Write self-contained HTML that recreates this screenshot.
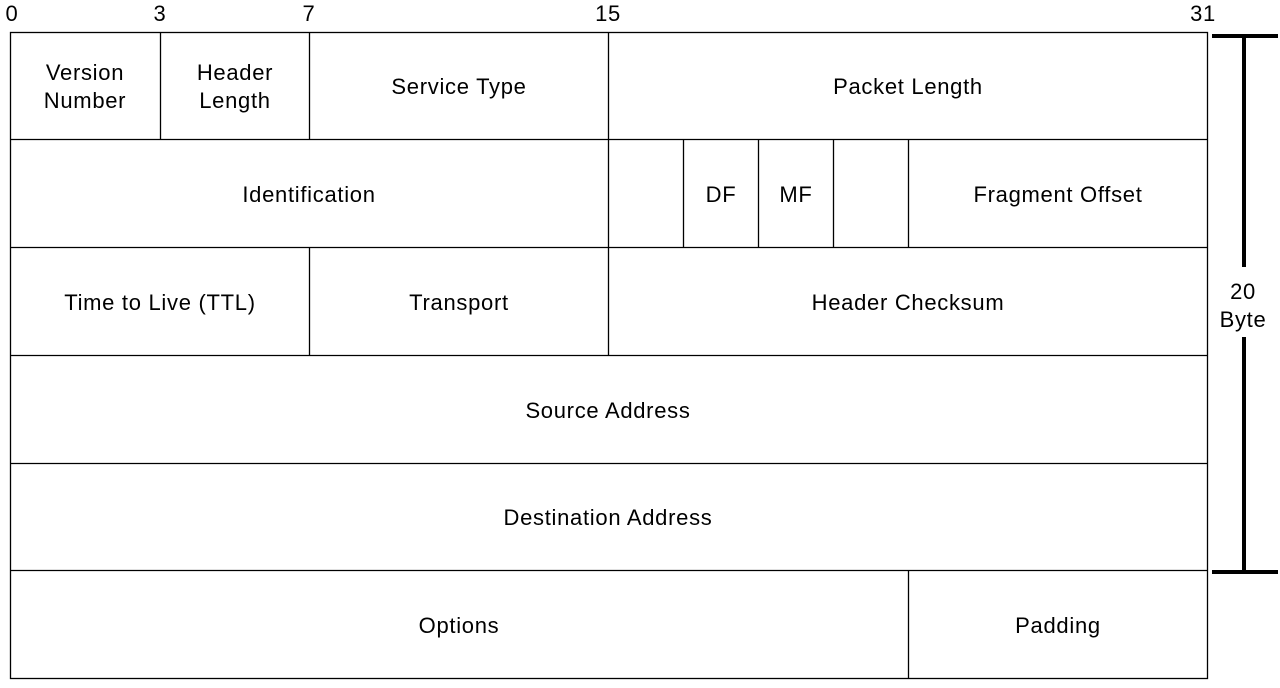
<!DOCTYPE html>
<html><head><style>body{margin:0;background:#fff}</style></head><body>
<svg width="1280" height="683" xmlns="http://www.w3.org/2000/svg" font-family="Liberation Sans, DejaVu Sans, sans-serif" font-size="22" fill="#000">
<rect width="1280" height="683" fill="#fff"/>
<g stroke="#000" stroke-width="1.3" fill="none">
<rect x="10.5" y="32.5" width="1197" height="646"/>
<line x1="10" y1="139.5" x2="1207" y2="139.5"/>
<line x1="10" y1="247.5" x2="1207" y2="247.5"/>
<line x1="10" y1="355.5" x2="1207" y2="355.5"/>
<line x1="10" y1="463.5" x2="1207" y2="463.5"/>
<line x1="10" y1="570.5" x2="1207" y2="570.5"/>
<line x1="160.5" y1="32" x2="160.5" y2="139"/>
<line x1="309.5" y1="32" x2="309.5" y2="139"/>
<line x1="608.5" y1="32" x2="608.5" y2="355"/>
<line x1="683.5" y1="139" x2="683.5" y2="247"/>
<line x1="758.5" y1="139" x2="758.5" y2="247"/>
<line x1="833.5" y1="139" x2="833.5" y2="247"/>
<line x1="908.5" y1="139" x2="908.5" y2="247"/>
<line x1="309.5" y1="247" x2="309.5" y2="355"/>
<line x1="908.5" y1="570" x2="908.5" y2="678"/>
</g>
<g stroke="#000" stroke-width="4">
<line x1="1212" y1="36" x2="1278" y2="36"/>
<line x1="1212" y1="572" x2="1278" y2="572"/>
<line x1="1244" y1="36" x2="1244" y2="267"/>
<line x1="1244" y1="337" x2="1244" y2="572"/>
</g>
<g text-anchor="middle" letter-spacing="0.7">
<text x="12" y="21">0</text>
<text x="160" y="21">3</text>
<text x="309" y="21">7</text>
<text x="608" y="21">15</text>
<text x="1203" y="21">31</text>
<text x="85" y="80">Version</text><text x="85" y="108">Number</text>
<text x="235" y="80">Header</text><text x="235" y="108">Length</text>
<text x="459" y="94">Service Type</text>
<text x="908" y="94">Packet Length</text>
<text x="309" y="202">Identification</text>
<text x="721" y="202">DF</text>
<text x="796" y="202">MF</text>
<text x="1058" y="202">Fragment Offset</text>
<text x="160" y="310">Time to Live (TTL)</text>
<text x="459" y="310">Transport</text>
<text x="908" y="310">Header Checksum</text>
<text x="608" y="418">Source Address</text>
<text x="608" y="525">Destination Address</text>
<text x="459" y="633">Options</text>
<text x="1058" y="633">Padding</text>
<text x="1243" y="299">20</text>
<text x="1243" y="327">Byte</text>
</g>
</svg>
</body></html>
